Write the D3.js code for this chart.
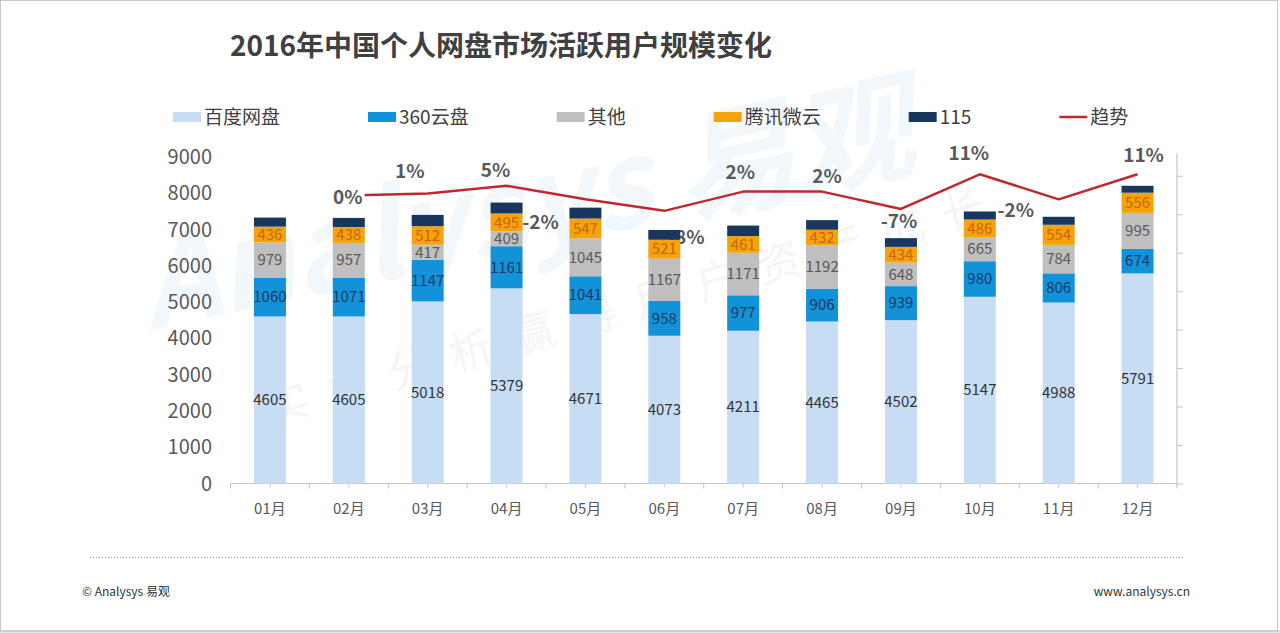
<!DOCTYPE html>
<html><head><meta charset="utf-8">
<script src="https://cdn.jsdelivr.net/npm/d3@7"></script>
<style>
html,body{margin:0;padding:0;background:#fff;}
svg{display:block;}
text{font-family:"Microsoft YaHei","Noto Sans CJK SC","Noto Sans",sans-serif;}
</style></head>
<body>
<svg id="chart" width="1280" height="633"></svg>
<script>
// ---- data ----
const months = ["01月","02月","03月","04月","05月","06月","07月","08月","09月","10月","11月","12月"];
const baidu   = [4605,4605,5018,5379,4671,4073,4211,4465,4502,5147,4988,5791];
const s360    = [1060,1071,1147,1161,1041,958,977,906,939,980,806,674];
const other   = [979,957,417,409,1045,1167,1171,1192,648,665,784,995];
const tencent = [436,438,512,495,547,521,461,432,434,486,554,556];
const s115    = [250,250,310,300,300,270,290,265,240,220,220,190];
const trend   = [null,0,1,5,-2,-8,2,2,-7,11,-2,11];
const seriesNames = ["百度网盘","360云盘","其他","腾讯微云","115","趋势"];
const leftTicks = [0,1000,2000,3000,4000,5000,6000,7000,8000,9000];
const rightTicks = [-150,-130,-110,-90,-70,-50,-30,-10,10];
// label placement offsets for trend labels (layout)
const trendLabelOffsets = [[0,0],[-1,2],[-18,-22],[-11,-16],[-45,23],[22,26],[-3,-19],[5,-15],[-2,12],[-11,-21],[-43,11],[6,-19]];

const colors = ["#c6ddf4","#1192d9","#bfbfbf","#f4a30f","#17375e"];
const labelColors = ["#333333","#1f3864","#595959","#c86400",null];
const trendColor = "#c0282e";

const svg = d3.select("#chart");

// frame
svg.append("rect").attr("x",0.5).attr("y",0.5).attr("width",1277).attr("height",630)
  .attr("fill","none").attr("stroke","#c8c8c8").attr("stroke-width",1);
svg.append("line").attr("x1",0).attr("x2",1280).attr("y1",631.5).attr("y2",631.5).attr("stroke","#d0d0d0").attr("stroke-width",2);

// faint watermark
const wm = svg.append("g").attr("pointer-events","none");
wm.append("text").attr("transform","translate(150,330) rotate(-12)").attr("opacity",0.06)
  .attr("font-size",120).attr("font-weight","bold").attr("font-style","italic")
  .attr("fill","#2e86c9").text("Analysys 易观");
wm.append("text").attr("transform","translate(270,425) rotate(-16)").attr("opacity",0.05)
  .attr("font-size",44).attr("fill","#2e5f8a").attr("letter-spacing",20).text("实力分析赢得用户资产成长");

// title
svg.append("text").attr("x",230).attr("y",56).attr("font-size",28).attr("font-weight","bold")
  .attr("fill","#404040").text("2016年中国个人网盘市场活跃用户规模变化");

// scales
const plotTop = 157, plotBottom = 483.5, plotLeft = 230.5, plotRight = 1177;
const x = d3.scaleBand().domain(months).range([plotLeft, plotRight]).padding(0);
const y = d3.scaleLinear().domain([0,9000]).range([plotBottom, plotTop]);
const y2 = d3.scaleLinear().domain([-150,20]).range([484, 157]);
const barW = 32;

// left axis labels
const gL = svg.append("g");
gL.selectAll("text").data(leftTicks).join("text")
  .attr("x",212).attr("y",d=>y(d)).attr("dy","0.35em").attr("text-anchor","end")
  .attr("font-size",20).attr("fill","#595959").text(d=>d);

// x axis
const axisCol = "#c4c4c4";
svg.append("line").attr("x1",plotLeft).attr("x2",plotRight).attr("y1",plotBottom).attr("y2",plotBottom)
  .attr("stroke",axisCol).attr("stroke-width",1.2);
const bounds = months.map(m=>x(m)).concat([plotRight]);
svg.append("g").selectAll("line").data(bounds).join("line")
  .attr("x1",d=>d).attr("x2",d=>d).attr("y1",plotBottom).attr("y2",plotBottom+5)
  .attr("stroke",axisCol);
svg.append("g").selectAll("line").data(months).join("line")
  .attr("x1",d=>x(d)+x.bandwidth()/2).attr("x2",d=>x(d)+x.bandwidth()/2)
  .attr("y1",plotBottom-4).attr("y2",plotBottom+4).attr("stroke",axisCol);
svg.append("g").selectAll("text").data(months).join("text")
  .attr("x",d=>x(d)+x.bandwidth()/2).attr("y",509).attr("dy","0.35em").attr("text-anchor","middle")
  .attr("font-size",15).attr("fill","#595959").text(d=>d);

// right axis
svg.append("line").attr("x1",plotRight).attr("x2",plotRight).attr("y1",153).attr("y2",484)
  .attr("stroke",axisCol).attr("stroke-width",1.2);
svg.append("g").selectAll("line").data(rightTicks).join("line")
  .attr("x1",plotRight).attr("x2",plotRight+6).attr("y1",d=>y2(d)).attr("y2",d=>y2(d))
  .attr("stroke",axisCol);

// trend line
const trendPts = trend.map((v,i)=>({v,i})).filter(d=>d.v!==null);
const line = d3.line().x(d=>x(months[d.i])+x.bandwidth()/2).y(d=>y2(d.v));
svg.append("path").datum(trendPts).attr("d",line).attr("fill","none")
  .attr("stroke",trendColor).attr("stroke-width",2.5).attr("stroke-linejoin","round");

// trend labels
const tl = svg.append("g");
trendPts.forEach(d=>{
  const cx = x(months[d.i])+x.bandwidth()/2 + trendLabelOffsets[d.i][0];
  const cy = y2(d.v) + trendLabelOffsets[d.i][1];
  const t = tl.append("text").attr("x",cx).attr("y",cy).attr("dy","0.35em").attr("text-anchor","middle")
    .attr("font-size",19).attr("font-weight","bold").attr("fill","#595959").text(d.v+"%");
  if (d.i===1) {
    const bb = t.node().getBBox();
    tl.insert("rect","text").attr("x",bb.x-2).attr("y",bb.y).attr("width",bb.width+4).attr("height",bb.height).attr("fill","#fff");
  }
});

// stacked bars
const seriesData = [baidu,s360,other,tencent,s115];
const rows = months.map((m,i)=>{const r={month:m}; seriesData.forEach((s,k)=>r["k"+k]=s[i]); return r;});
const stack = d3.stack().keys(seriesData.map((s,k)=>"k"+k));
const stacked = stack(rows);
const gb = svg.append("g");
stacked.forEach((layer,k)=>{
  gb.append("g").selectAll("rect").data(layer).join("rect")
    .attr("x",d=>x(d.data.month)+(x.bandwidth()-barW)/2).attr("width",barW)
    .attr("y",d=>y(d[1])).attr("height",d=>y(d[0])-y(d[1]))
    .attr("fill",colors[k]);
});
stacked.forEach((layer,k)=>{
  if (!labelColors[k]) return;
  gb.append("g").selectAll("text").data(layer).join("text")
    .attr("x",d=>x(d.data.month)+x.bandwidth()/2).attr("y",d=>(y(d[0])+y(d[1]))/2)
    .attr("dy","0.35em").attr("text-anchor","middle").attr("font-size",15)
    .attr("fill",labelColors[k]).text(d=>d[1]-d[0]);
});

// legend
const lg = svg.append("g");
let lx = 173; const ly = 117;
seriesNames.forEach((n,k)=>{
  if (k<5) {
    lg.append("rect").attr("x",lx).attr("y",ly-5).attr("width",28).attr("height",10).attr("fill",colors[k]);
  } else {
    lg.append("line").attr("x1",lx).attr("x2",lx+28).attr("y1",ly).attr("y2",ly).attr("stroke",trendColor).attr("stroke-width",2.5);
  }
  const t = lg.append("text").attr("x",lx+31).attr("y",ly).attr("dy","0.35em").attr("font-size",19)
    .attr("fill","#404040").text(n);
  lx = lx + 31 + t.node().getComputedTextLength() + 88;
});

// footer
svg.append("line").attr("x1",90).attr("x2",1183).attr("y1",557.5).attr("y2",557.5)
  .attr("stroke","#9a9a9a").attr("stroke-width",1).attr("stroke-dasharray","1,2");
svg.append("text").attr("x",82).attr("y",592).attr("dy","0.35em").attr("font-size",12).attr("fill","#333").text("© Analysys 易观");
svg.append("text").attr("x",1190).attr("y",592).attr("dy","0.35em").attr("text-anchor","end").attr("font-size",12).attr("fill","#333").text("www.analysys.cn");
</script>
</body></html>
